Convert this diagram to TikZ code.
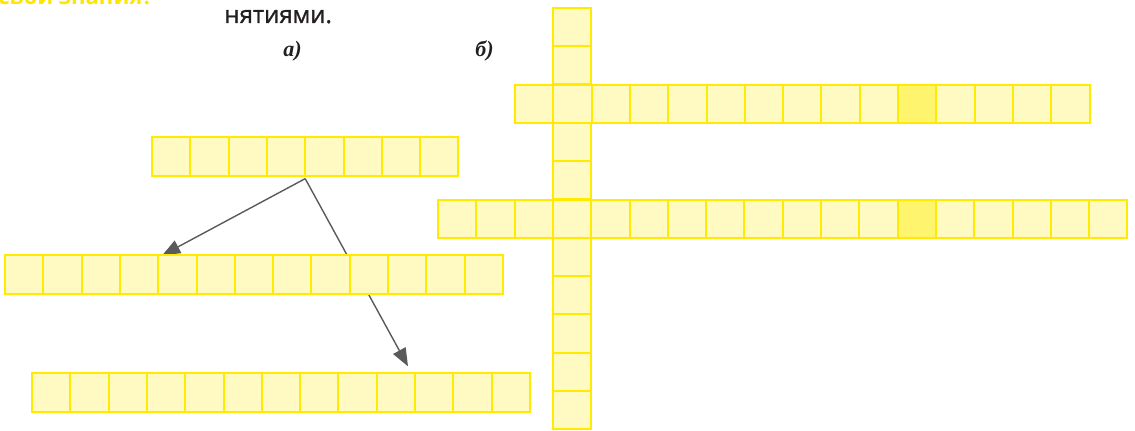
\documentclass[tikz,border=0pt]{standalone}
\usepackage{fontspec}
\setmainfont{Liberation Serif}
\setsansfont{Open Sans}
\newfontfamily\tailfont[FakeBold=1.3]{Open Sans}
\usepackage{xcolor}
\usepackage{tikz}
\usetikzlibrary{arrows.meta,positioning,backgrounds,calc}
\definecolor{cellfill}{HTML}{FFF9C2}
\definecolor{cellline}{HTML}{FFEB00}
\definecolor{keyfill}{HTML}{FFF46E}
\definecolor{arrowgray}{HTML}{5A5A5A}
\definecolor{headyellow}{HTML}{FFE600}
\definecolor{textgray}{HTML}{231F20}

\begin{document}
\begin{tikzpicture}[
    x=0.5pt, y=-0.5pt,
    cell/.style={draw=cellline, fill=cellfill, line width=1pt, minimum size=19.15pt, inner sep=0pt, outer sep=0pt},
    key/.style={cell, fill=keyfill},
    tag/.style={font=\bfseries\itshape\fontsize{11}{13}\selectfont, text=textgray, inner sep=0pt, anchor=base west},
    arrow/.style={-{Triangle[length=9pt,width=7pt]}, draw=arrowgray, line width=0.7pt}
]
\useasboundingbox (0,0) rectangle (1135,431);
\clip (0,0) rectangle (1135,431);

% heading and labels
\node[font=\sffamily\bfseries\fontsize{11}{13}\selectfont, text=headyellow, inner sep=0pt, anchor=base west] (head) at (-2,5) {свои знания?};
\node[font=\tailfont\fontsize{12}{14}\selectfont, text=textgray, inner sep=0pt, anchor=base west] (tail) at (224,23) {нятиями.};
\node[tag] (taga) at (283,57) {а)};
\node[tag] (tagb) at (475,57) {б)};

% a) three rows of cells
\foreach \i in {1,...,8}
    \node[cell] (a\i) at ({152+38.3*(\i-0.5)},156.5) {};
\foreach \i in {1,...,13}
    \node[cell] (b\i) at ({5+38.3*(\i-0.5)},274.5) {};
\foreach \i in {1,...,13}
    \node[cell] (c\i) at ({32+38.3*(\i-0.5)},392.5) {};

% b) crossword
\foreach \i in {1,...,15}{
    \ifnum\i=11 \node[key] (r\i) at ({515+38.3*(\i-0.5)},104) {};
    \else \node[cell] (r\i) at ({515+38.3*(\i-0.5)},104) {}; \fi
}
\foreach \i in {1,...,18}{
    \ifnum\i=13 \node[key] (s\i) at ({438+38.3*(\i-0.5)},219) {};
    \else \node[cell] (s\i) at ({438+38.3*(\i-0.5)},219) {}; \fi
}
\foreach \k in {1,2,4,5,7,8,9,10,11}
    \node[cell] (v\k) at (572,{27+38.3*(\k-1)}) {};

% arrows
\coordinate (fork) at ([yshift=-1.5pt]a4.south east);
\begin{scope}[on background layer]
\draw[arrow] (fork) -- ([xshift=2pt]b5.north west);
\draw[arrow] (fork) -- ([xshift=-3.5pt,yshift=3.5pt]c10.north east);
\end{scope}
\end{tikzpicture}
\end{document}
